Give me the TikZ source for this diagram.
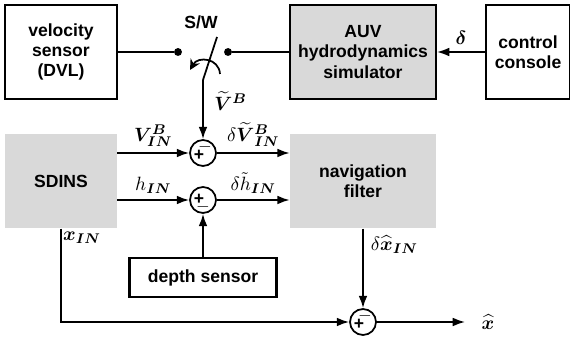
\documentclass[tikz,border=0pt]{standalone}
\usepackage{fontspec}
\setmainfont{Liberation Sans}
\usepackage{amsmath}
\usepackage{bm}
\usepackage{tikz}
\usetikzlibrary{arrows.meta, positioning, calc}
\definecolor{boxgray}{RGB}{217,217,217}
\begin{document}
\begin{tikzpicture}[
  x=0.02cm, y=-0.02cm,
  node distance=0.68cm and 0.96cm,
  font=\bfseries\fontsize{10}{11.5}\selectfont,
  block/.style={
    rectangle, align=center, inner sep=2pt,
    minimum width=2.24cm, minimum height=1.88cm
  },
  sensblock/.style={block, draw=black, line width=1.2pt, fill=white},
  simblock/.style={block, draw=black, line width=1.2pt, fill=boxgray, minimum width=2.92cm},
  insblock/.style={block, fill=boxgray},
  sumnode/.style={circle, draw=black, line width=1pt, minimum size=0.52cm, inner sep=0pt},
  sign/.style={font=\bfseries\fontsize{10}{10}\selectfont, inner sep=0pt},
  contact/.style={circle, fill=black, inner sep=0pt, minimum size=4.5pt},
  arrow/.style={-{Latex[length=7pt,width=5pt]}, line width=1pt},
  wire/.style={line width=1pt},
  mlabel/.style={font=\fontsize{11}{11}\selectfont, inner sep=1pt}
]
\useasboundingbox (0,0) rectangle (570,340);
% upper row
\node[sensblock] (vsens) at (61,52) {velocity\\sensor\\(DVL)};
\node[simblock] (auv) at (363,52) {AUV\\hydrodynamics\\simulator};
\node[sensblock, right=of auv, minimum width=1.68cm] (console) {control\\console};
% switch
\node[contact] (swl) at (178,52) {};
\node[contact] (swr) at (228,52) {};
\coordinate (swbot) at (203,80);
\coordinate (swtop) at (217,37);
\coordinate (arcr) at (220,74);
\coordinate (arcl) at (190,70);
\node (swlbl) at (201,22) {S/W};
% lower row
\node[insblock, below=of vsens] (sdins) {SDINS};
\node[insblock, below=of auv, minimum width=2.92cm] (navf) {navigation\\filter};
\node[sensblock, minimum width=2.94cm, minimum height=0.78cm] (depth) at (203,277.5) {depth sensor};
\node[sumnode] (sum1) at (203,153) {};
\node[sumnode] (sum2) at (203,200) {};
\node[sumnode] (sum3) at (363,322) {};
\coordinate (out) at (465,322);
% signs
\node[sign] at ($(sum1)+(-4,2)$) {+};
\node[sign] at ($(sum1)+(2,-6)$) {$-$};
\node[sign] at ($(sum2)+(-4,-1)$) {+};
\node[sign] at ($(sum2)+(0,7)$) {$-$};
\node[sign] at ($(sum3)+(-4,2)$) {+};
\node[sign] at ($(sum3)+(2,-6)$) {$-$};
% connectors
\draw[arrow] (console) -- node[mlabel, above=3pt] {$\bm{\delta}$} (auv);
\draw[wire] (vsens) -- (swl);
\draw[wire] (auv) -- (swr);
\draw[wire] (swbot) -- (swtop);
\draw[-{Stealth[length=6pt,width=6pt]}, line width=1pt] (arcr) .. controls ($(arcr)+(-1,-16)$) and ($(arcl)+(8,-14)$) .. (arcl);
\draw[arrow] (swbot) -- node[mlabel, right=5pt, pos=0.35] {$\widetilde{\bm{V}}{}^{\bm{B}}$} (sum1);
\draw[arrow] (sdins.east |- sum1) -- node[mlabel, above=2pt] {$\bm{V}^{\bm{B}}_{\bm{IN}}$} (sum1);
\draw[arrow] (sdins.east |- sum2) -- node[mlabel, above=2pt] {$h_{\bm{IN}}$} (sum2);
\draw[arrow] (sum1) -- node[mlabel, above=2pt] {$\delta\widetilde{\bm{V}}{}^{\bm{B}}_{\bm{IN}}$} (sum1 -| navf.west);
\draw[arrow] (sum2) -- node[mlabel, above=2pt] {$\delta\tilde{h}_{\bm{IN}}$} (sum2 -| navf.west);
\draw[arrow] (depth) -- (sum2);
\draw[arrow] (sdins.south) |- (sum3);
\node[mlabel] (xin) at (82,238) {$\bm{x}_{\bm{IN}}$};
\draw[arrow] (navf.south -| sum3) -- node[mlabel, right=3pt, pos=0.2] {$\delta\widehat{\bm{x}}_{\bm{IN}}$} (sum3);
\draw[arrow] (sum3) -- (out) node[mlabel, right=8pt] {$\widehat{\bm{x}}$};
\end{tikzpicture}
\end{document}
